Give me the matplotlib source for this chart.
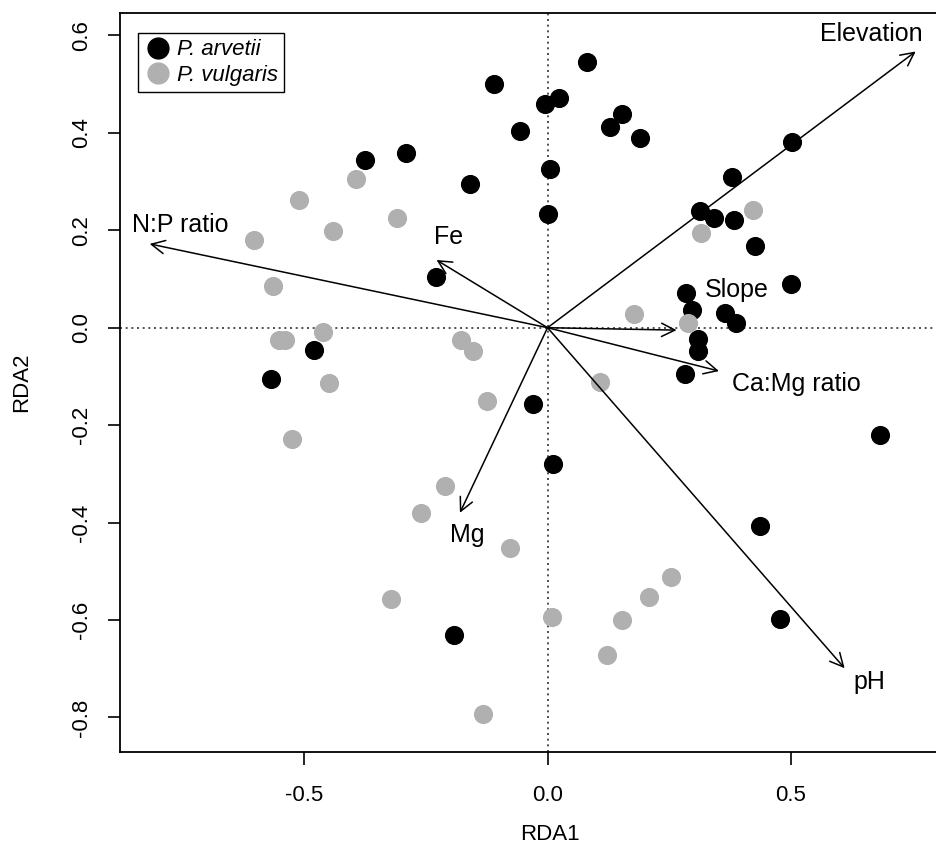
import matplotlib
matplotlib.use("Agg")
import matplotlib.pyplot as plt
from matplotlib.lines import Line2D

plt.rcParams['font.family'] = ['Liberation Sans', 'DejaVu Sans']

# site scores, P. arvetii
arvetii_x = [0.080, -0.110, -0.006, 0.023, -0.057, 0.129, 0.153, 0.189, 0.005, 0.000,
             -0.375, -0.291, -0.160, -0.230, -0.479, -0.567, 0.501, 0.379, 0.314, 0.341,
             0.383, 0.427, 0.500, 0.285, 0.297, 0.365, 0.386, 0.309, 0.309, 0.282,
             -0.030, 0.012, 0.682, 0.437, 0.477, -0.192]
arvetii_y = [0.545, 0.500, 0.459, 0.472, 0.404, 0.411, 0.439, 0.390, 0.325, 0.233,
             0.344, 0.359, 0.294, 0.105, -0.046, -0.106, 0.382, 0.310, 0.239, 0.226,
             0.221, 0.168, 0.090, 0.071, 0.036, 0.030, 0.010, -0.024, -0.048, -0.095,
             -0.157, -0.280, -0.221, -0.407, -0.598, -0.631]

# site scores, P. vulgaris
vulgaris_x = [-0.603, -0.511, -0.441, -0.394, -0.309, -0.563, -0.551, -0.539, -0.462, -0.449,
              -0.524, -0.178, -0.153, -0.125, -0.211, -0.260, -0.322, -0.133, -0.078, 0.009,
              0.122, 0.153, 0.209, 0.253, 0.108, 0.178, 0.289, 0.315, 0.421]
vulgaris_y = [0.181, 0.262, 0.199, 0.305, 0.225, 0.086, -0.025, -0.025, -0.008, -0.114,
              -0.229, -0.025, -0.048, -0.151, -0.325, -0.380, -0.557, -0.793, -0.452, -0.594,
              -0.671, -0.600, -0.552, -0.512, -0.111, 0.028, 0.010, 0.195, 0.241]

# environmental vectors
env_names = ['Elevation', 'N:P ratio', 'Fe', 'Slope', 'Ca:Mg ratio', 'pH', 'Mg']
env_x = [0.756, -0.817, -0.228, 0.265, 0.352, 0.610, -0.180]
env_y = [0.567, 0.172, 0.139, -0.005, -0.089, -0.699, -0.380]
lab_x = [0.664, -0.755, -0.204, 0.388, 0.511, 0.660, -0.164]
lab_y = [0.602, 0.211, 0.186, 0.077, -0.116, -0.727, -0.426]

fig = plt.figure(figsize=(9.37, 8.49), dpi=100)
ax = fig.add_axes([120 / 937, 1 - 752 / 849, (979 - 120) / 937, (752 - 13) / 849])

ax.axhline(0, color='#333333', lw=1.2, ls=(0, (1.2, 2.2)), zorder=1)
ax.axvline(0, color='#333333', lw=1.2, ls=(0, (1.2, 2.2)), zorder=1)

ax.scatter(arvetii_x, arvetii_y, s=190, c='black', linewidths=0, zorder=2)
ax.scatter(vulgaris_x, vulgaris_y, s=190, c='#b0b0b0', linewidths=0, zorder=2)

for name, x, y, lx, ly in zip(env_names, env_x, env_y, lab_x, lab_y):
    ax.annotate('', xy=(x, y), xytext=(0, 0),
                arrowprops=dict(arrowstyle='->,head_length=0.6,head_width=0.3',
                                color='black', lw=1.1, shrinkA=0, shrinkB=0,
                                mutation_scale=16),
                zorder=3)
    ax.text(lx, ly, name, fontsize=18, ha='center', va='center', zorder=4)

ax.set_xlim(-0.878, 0.886)
ax.set_ylim(-0.871, 0.646)
ax.set_xticks([-0.5, 0.0, 0.5])
ax.set_xticklabels(['-0.5', '0.0', '0.5'])
ax.set_yticks([-0.8, -0.6, -0.4, -0.2, 0.0, 0.2, 0.4, 0.6])
ax.set_yticklabels(['-0.8', '-0.6', '-0.4', '-0.2', '0.0', '0.2', '0.4', '0.6'],
                   rotation=90, va='center')
ax.tick_params(axis='both', labelsize=16, length=9, width=1.2, direction='out')
ax.tick_params(axis='x', pad=15)
ax.tick_params(axis='y', pad=11)
for sp in ax.spines.values():
    sp.set_linewidth(1.3)

ax.set_xlabel('RDA1', fontsize=16, va='center', ha='center')
ax.set_ylabel('RDA2', fontsize=16, va='center', ha='center')
ax.xaxis.set_label_coords((549.7 - 120) / 859, (752 - 834) / 739)
ax.yaxis.set_label_coords((22 - 120) / 859, 0.5)

handles = [Line2D([], [], marker='o', ls='', color='black', markersize=15),
           Line2D([], [], marker='o', ls='', color='#b0b0b0', markersize=15)]
leg = ax.legend(handles, ['P. arvetii', 'P. vulgaris'], loc='upper left',
                bbox_to_anchor=((137.7 - 120) / 859, (752 - 32.7) / 739),
                borderaxespad=0, fancybox=False, edgecolor='black', framealpha=1,
                prop={'size': 16, 'style': 'italic'}, handletextpad=0.25,
                borderpad=0.3, labelspacing=0.2, handlelength=1.2)
leg.get_frame().set_linewidth(1.0)

fig.savefig('out.png', dpi=100)
